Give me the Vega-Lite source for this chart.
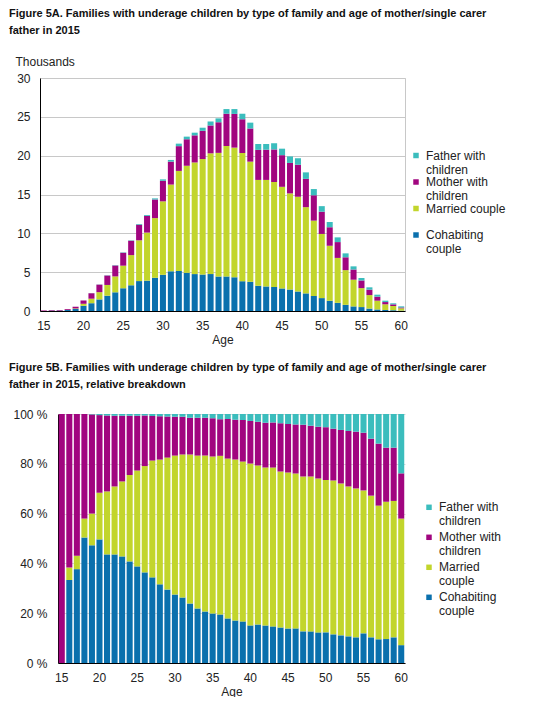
{
  "$schema": "https://vega.github.io/schema/vega-lite/v6.json",
  "background": "white",
  "padding": {"left": 8, "top": 7, "right": 0, "bottom": 0},
  "config": {
    "font": "Liberation Sans",
    "view": {"stroke": null},
    "axis": {
      "labelFont": "Liberation Sans",
      "labelFontSize": 12,
      "labelColor": "#222222",
      "titleFont": "Liberation Sans",
      "titleFontSize": 12,
      "titleFontWeight": "normal",
      "titleColor": "#222222",
      "domainColor": "#000000",
      "domainWidth": 1,
      "ticks": false,
      "tickSize": 0,
      "gridColor": "#c8c8c8"
    },
    "legend": {
      "labelFont": "Liberation Sans",
      "labelFontSize": 12,
      "labelColor": "#222222",
      "symbolType": "square",
      "symbolSize": 30,
      "symbolStrokeWidth": 0,
      "labelOffset": 4,
      "padding": 0,
      "title": null
    },
    "title": {
      "font": "Liberation Sans",
      "fontSize": 11,
      "fontWeight": "bold",
      "color": "#111111",
      "anchor": "start",
      "frame": "group",
      "lineHeight": 17
    }
  },
  "datasets": {
    "families": [
      {"Age": 15, "Cohabiting couple": 0, "Married couple": 0, "Mother with children": 0.07, "Father with children": 0},
      {"Age": 16, "Cohabiting couple": 0.04, "Married couple": 0.006, "Mother with children": 0.074, "Father with children": 0},
      {"Age": 17, "Cohabiting couple": 0.049, "Married couple": 0.007, "Mother with children": 0.074, "Father with children": 0},
      {"Age": 18, "Cohabiting couple": 0.126, "Married couple": 0.019, "Mother with children": 0.105, "Father with children": 0},
      {"Age": 19, "Cohabiting couple": 0.26, "Married couple": 0.07, "Mother with children": 0.219, "Father with children": 0.001},
      {"Age": 20, "Cohabiting couple": 0.675, "Married couple": 0.255, "Mother with children": 0.424, "Father with children": 0.006},
      {"Age": 21, "Cohabiting couple": 1.003, "Married couple": 0.582, "Mother with children": 0.701, "Father with children": 0.014},
      {"Age": 22, "Cohabiting couple": 1.491, "Married couple": 0.934, "Mother with children": 0.971, "Father with children": 0.024},
      {"Age": 23, "Cohabiting couple": 1.969, "Married couple": 1.385, "Mother with children": 1.214, "Father with children": 0.032},
      {"Age": 24, "Cohabiting couple": 2.407, "Married couple": 2.048, "Mother with children": 1.404, "Father with children": 0.041},
      {"Age": 25, "Cohabiting couple": 2.929, "Married couple": 2.907, "Mother with children": 1.661, "Father with children": 0.053},
      {"Age": 26, "Cohabiting couple": 3.312, "Married couple": 3.885, "Mother with children": 1.849, "Father with children": 0.054},
      {"Age": 27, "Cohabiting couple": 3.853, "Married couple": 5.253, "Mother with children": 2.005, "Father with children": 0.09},
      {"Age": 28, "Cohabiting couple": 3.906, "Married couple": 6.192, "Mother with children": 2.151, "Father with children": 0.111},
      {"Age": 29, "Cohabiting couple": 4.278, "Married couple": 7.685, "Mother with children": 2.393, "Father with children": 0.145},
      {"Age": 30, "Cohabiting couple": 4.661, "Married couple": 9.458, "Mother with children": 2.644, "Father with children": 0.186},
      {"Age": 31, "Cohabiting couple": 5.115, "Married couple": 11.164, "Mother with children": 2.956, "Father with children": 0.214},
      {"Age": 32, "Cohabiting couple": 5.15, "Married couple": 12.887, "Mother with children": 3.189, "Father with children": 0.323},
      {"Age": 33, "Cohabiting couple": 4.917, "Married couple": 13.784, "Mother with children": 3.412, "Father with children": 0.337},
      {"Age": 34, "Cohabiting couple": 4.753, "Married couple": 14.373, "Mother with children": 3.49, "Father with children": 0.344},
      {"Age": 35, "Cohabiting couple": 4.696, "Married couple": 14.868, "Mother with children": 3.634, "Father with children": 0.401},
      {"Age": 36, "Cohabiting couple": 4.758, "Married couple": 15.543, "Mother with children": 3.587, "Father with children": 0.512},
      {"Age": 37, "Cohabiting couple": 4.439, "Married couple": 15.922, "Mother with children": 3.943, "Father with children": 0.496},
      {"Age": 38, "Cohabiting couple": 4.446, "Married couple": 16.796, "Mother with children": 4.16, "Father with children": 0.598},
      {"Age": 39, "Cohabiting couple": 4.342, "Married couple": 16.692, "Mother with children": 4.342, "Father with children": 0.624},
      {"Age": 40, "Cohabiting couple": 3.835, "Married couple": 16.51, "Mother with children": 4.343, "Father with children": 0.711},
      {"Age": 41, "Cohabiting couple": 3.759, "Married couple": 15.472, "Mother with children": 4.268, "Father with children": 0.752},
      {"Age": 42, "Cohabiting couple": 3.247, "Married couple": 13.631, "Mother with children": 3.87, "Father with children": 0.753},
      {"Age": 43, "Cohabiting couple": 3.161, "Married couple": 13.717, "Mother with children": 3.892, "Father with children": 0.731},
      {"Age": 44, "Cohabiting couple": 3.089, "Married couple": 13.522, "Mother with children": 4.19, "Father with children": 0.799},
      {"Age": 45, "Cohabiting couple": 2.905, "Married couple": 13.083, "Mother with children": 4.076, "Father with children": 0.836},
      {"Age": 46, "Cohabiting couple": 2.766, "Married couple": 12.378, "Mother with children": 3.92, "Father with children": 0.836},
      {"Age": 47, "Cohabiting couple": 2.497, "Married couple": 12.229, "Mother with children": 4.089, "Father with children": 0.845},
      {"Age": 48, "Cohabiting couple": 2.267, "Married couple": 11.103, "Mother with children": 3.641, "Father with children": 0.839},
      {"Age": 49, "Cohabiting couple": 1.931, "Married couple": 9.703, "Mother with children": 3.266, "Father with children": 0.801},
      {"Age": 50, "Cohabiting couple": 1.661, "Married couple": 8.262, "Mother with children": 2.862, "Father with children": 0.716},
      {"Age": 51, "Cohabiting couple": 1.318, "Married couple": 7.082, "Mother with children": 2.384, "Father with children": 0.676},
      {"Age": 52, "Cohabiting couple": 1.052, "Married couple": 5.783, "Mother with children": 2.038, "Father with children": 0.607},
      {"Age": 53, "Cohabiting couple": 0.794, "Married couple": 4.467, "Mother with children": 1.655, "Father with children": 0.505},
      {"Age": 54, "Cohabiting couple": 0.592, "Married couple": 3.439, "Mother with children": 1.311, "Father with children": 0.408},
      {"Age": 55, "Cohabiting couple": 0.506, "Married couple": 2.44, "Mother with children": 0.986, "Father with children": 0.319},
      {"Age": 56, "Cohabiting couple": 0.314, "Married couple": 1.735, "Mother with children": 0.698, "Father with children": 0.302},
      {"Age": 57, "Cohabiting couple": 0.2, "Married couple": 1.128, "Mother with children": 0.523, "Father with children": 0.25},
      {"Age": 58, "Cohabiting couple": 0.128, "Married couple": 0.734, "Mother with children": 0.289, "Father with children": 0.18},
      {"Age": 59, "Cohabiting couple": 0.102, "Married couple": 0.543, "Mother with children": 0.212, "Father with children": 0.134},
      {"Age": 60, "Cohabiting couple": 0.043, "Married couple": 0.305, "Mother with children": 0.109, "Father with children": 0.143}
    ]
  },
  "vconcat": [
    {
      "title": {
        "text": ["Figure 5A. Families with underage children by type of family and age of mother/single carer", "father in 2015"],
        "dx": -31,
        "offset": 19
      },
      "width": 365,
      "height": 233,
      "view": {"stroke": "#c8c8c8"},
      "data": {"name": "families"},
      "transform": [
        {"fold": ["Cohabiting couple", "Married couple", "Mother with children", "Father with children"], "as": ["type", "value"]},
        {"window": [{"op": "row_number", "as": "k"}], "groupby": ["Age"]}
      ],
      "mark": {"type": "bar"},
      "encoding": {
        "x": {
          "field": "Age",
          "type": "ordinal",
          "scale": {"paddingInner": 0.24, "paddingOuter": 0.1},
          "axis": {"values": [15, 20, 25, 30, 35, 40, 45, 50, 55, 60], "labelAngle": 0, "title": "Age", "labelPadding": 9, "titlePadding": 3, "grid": false}
        },
        "y": {
          "field": "value",
          "type": "quantitative",
          "stack": "zero",
          "scale": {"domain": [0, 30]},
          "axis": {
            "values": [0, 5, 10, 15, 20, 25, 30],
            "title": "Thousands",
            "titleAngle": 0,
            "titleAlign": "left",
            "titleBaseline": "alphabetic",
            "titleX": -25,
            "titleY": -13,
            "labelPadding": 10,
            "grid": true
          }
        },
        "color": {
          "field": "type",
          "type": "nominal",
          "scale": {
            "domain": ["Father with children", "Mother with children", "Married couple", "Cohabiting couple"],
            "range": ["#3bbdbd", "#a1057f", "#c2d52c", "#0a70ad"]
          },
          "legend": {
            "orient": "none",
            "legendX": 370,
            "legendY": 71.5,
            "rowPadding": 0.5,
            "labelExpr": "datum.label == 'Father with children' ? ['Father with', 'children'] : datum.label == 'Mother with children' ? ['Mother with', 'children'] : datum.label == 'Cohabiting couple' ? ['Cohabiting', 'couple'] : ['Married couple', ' ']"
          }
        },
        "order": {"field": "k", "type": "quantitative", "sort": "ascending"}
      }
    },
    {
      "title": {
        "text": ["Figure 5B. Families with underage children by type of family and age of mother/single carer", "father in 2015, relative breakdown"],
        "dx": -31,
        "offset": 18
      },
      "width": 365,
      "height": 249,
      "data": {"name": "families"},
      "transform": [
        {"fold": ["Cohabiting couple", "Married couple", "Mother with children", "Father with children"], "as": ["type", "value"]},
        {"window": [{"op": "row_number", "as": "k"}], "groupby": ["Age"]}
      ],
      "mark": {"type": "bar"},
      "encoding": {
        "x": {
          "field": "Age",
          "type": "ordinal",
          "scale": {"range": [18, 365], "paddingInner": 0.2, "paddingOuter": 0.1},
          "axis": {"values": [15, 20, 25, 30, 35, 40, 45, 50, 55, 60], "labelAngle": 0, "title": "Age", "labelPadding": 9, "titlePadding": 3, "grid": false}
        },
        "y": {
          "field": "value",
          "type": "quantitative",
          "stack": "normalize",
          "axis": {
            "values": [0, 0.2, 0.4, 0.6, 0.8, 1],
            "labelExpr": "round(datum.value * 100) + ' %'",
            "title": null,
            "offset": -18,
            "labelPadding": 11,
            "grid": true,
            "gridColor": "#d8d8d8"
          }
        },
        "color": {
          "field": "type",
          "type": "nominal",
          "scale": {
            "domain": ["Father with children", "Mother with children", "Married couple", "Cohabiting couple"],
            "range": ["#3bbdbd", "#a1057f", "#c2d52c", "#0a70ad"]
          },
          "legend": {
            "orient": "none",
            "legendX": 383,
            "legendY": 87.3,
            "rowPadding": 4,
            "labelExpr": "datum.label == 'Father with children' ? ['Father with', 'children'] : datum.label == 'Mother with children' ? ['Mother with', 'children'] : datum.label == 'Cohabiting couple' ? ['Cohabiting', 'couple'] : ['Married', 'couple']"
          }
        },
        "order": {"field": "k", "type": "quantitative", "sort": "ascending"}
      }
    }
  ],
  "spacing": 16,
  "resolve": {
    "scale": {"color": "independent", "x": "independent", "y": "independent"},
    "legend": {"color": "independent"}
  }
}
